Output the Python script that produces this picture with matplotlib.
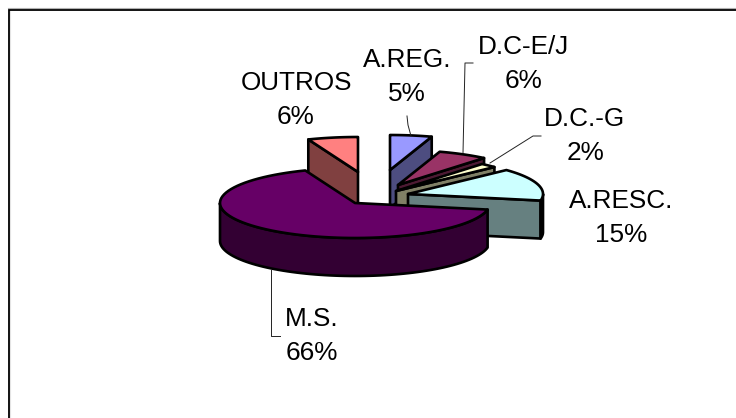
import numpy as np
import matplotlib
matplotlib.use("Agg")
import matplotlib.pyplot as plt
from matplotlib.patches import Polygon

names = ["A.REG.", "D.C-E/J", "D.C.-G", "A.RESC.", "M.S.", "OUTROS"]
values = [5, 6, 2, 15, 66, 6]

top_colors = ["#9999FF", "#993366", "#FFFFCC", "#CCFFFF", "#660066", "#FF8080"]
side_colors = ["#4D4D80", "#4D1A33", "#808066", "#668080", "#330033", "#804040"]

# pixel position of each slice's apex (exploded pie)
centers = [(390, 170), (398, 185), (396, 191), (408, 194), (355, 203), (358, 172)]
label_pos = [(407, 77), (523, 64), (585, 136), (621, 218), (312, 336), (296, 100)]
leaders = [
    [(407, 116), (408, 125), (411, 136)],
    [(473, 63), (465, 63), (463, 153)],
    [(541, 136), (533, 136), (490, 163)],
    None,
    [(271, 270), (271, 336), (280, 336)],
    None,
]
draw_order = [5, 0, 1, 2, 3, 4]

rx, ry, depth = 135, 35, 38
LW = 1.9

fig = plt.figure(figsize=(7.36, 4.18), dpi=100)
ax = fig.add_axes([0, 0, 1, 1])
ax.set_xlim(0, 736)
ax.set_ylim(418, 0)
ax.axis("off")

# chart frame, only top and left fall inside the picture
ax.plot([8, 736], [8.2, 8.2], color="#b0b0b0", lw=0.8)
ax.plot([9.6, 9.6], [9, 418], color="#e4e4e4", lw=0.8)
ax.plot([8.5, 8.5, 736], [418, 9.5, 9.5], color="black", lw=1.3, solid_joinstyle="miter")


def rim_point(cx, cy, deg):
    t = np.radians(deg)
    return cx + rx * np.sin(t), cy - ry * np.cos(t)


def draw_slice(cx, cy, a1, a2, top, side):
    # cut faces, only those turned towards the viewer
    for a, visible in ((a1, np.sin(np.radians(a1)) < 0), (a2, np.sin(np.radians(a2)) > 0)):
        if visible:
            x, y = rim_point(cx, cy, a)
            ax.add_patch(Polygon([(cx, cy), (x, y), (x, y + depth), (cx, cy + depth)],
                                 fc=side, ec="black", lw=LW, joinstyle="round"))
    # outer wall
    lo, hi = max(a1, 90), min(a2, 270)
    if lo < hi:
        angles = np.linspace(lo, hi, 80)
        xs, ys = rim_point(cx, cy, angles)
        wall = list(zip(xs, ys)) + list(zip(xs[::-1], ys[::-1] + depth))
        ax.add_patch(Polygon(wall, fc=side, ec="black", lw=LW, joinstyle="round"))
    # top
    angles = np.linspace(a1, a2, 80)
    xs, ys = rim_point(cx, cy, angles)
    ax.add_patch(Polygon([(cx, cy)] + list(zip(xs, ys)), fc=top, ec="black", lw=LW,
                         joinstyle="round"))


edges = np.cumsum([0] + values) / sum(values) * 360
for i in draw_order:
    draw_slice(centers[i][0], centers[i][1], edges[i], edges[i + 1], top_colors[i], side_colors[i])

for i in range(len(names)):
    ax.text(label_pos[i][0], label_pos[i][1], f"{names[i]}\n{values[i]}%",
            ha="center", va="center", family="Liberation Sans", fontsize=18.8,
            linespacing=1.5, color="black")
    if leaders[i]:
        ax.plot(*zip(*leaders[i]), color="#222222", lw=0.7)

fig.savefig("out.png", dpi=100)
